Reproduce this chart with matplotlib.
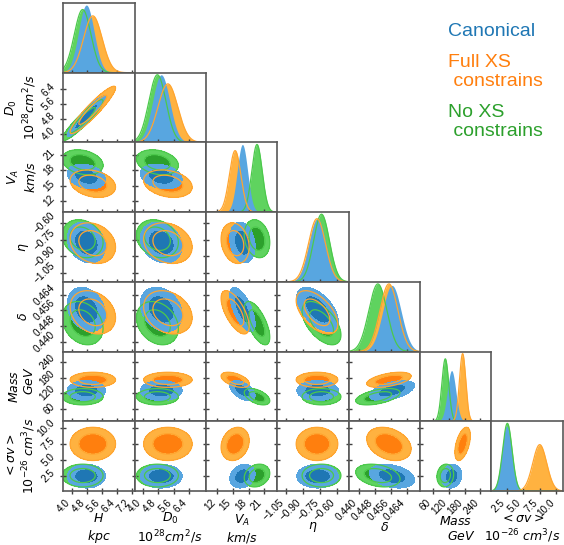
import numpy as np
import matplotlib
matplotlib.use("Agg")
import matplotlib.pyplot as plt

plt.rcParams['font.family'] = ['Liberation Sans', 'DejaVu Sans']
plt.rcParams['mathtext.fontset'] = 'dejavusans'

# parametros, limites e ticks
labels = [r'$H$' '\n' r'$kpc$',
          r'$D_0$' '\n' r'$10^{28}cm^2/s$',
          r'$V_A$' '\n' r'$km/s$',
          r'$\eta$',
          r'$\delta$',
          r'$Mass$' '\n' r'$\ \ \ GeV$',
          r'$<\sigma v>$' '\n' r'$10^{-26}$ $cm^3/s$']
limits = [(3.5, 7.35), (3.55, 7.3), (9.8, 23.5), (-1.13, -0.50),
          (0.435, 0.4705), (10, 282), (0.2, 11.0)]
ticks = [[4.0, 4.8, 5.6, 6.4, 7.2], [4.0, 4.8, 5.6, 6.4], [12, 15, 18, 21],
         [-1.05, -0.90, -0.75, -0.60], [0.440, 0.448, 0.456, 0.464],
         [60, 120, 180, 240], [2.5, 5.0, 7.5, 10.0]]
tick_labels = [['4.0', '4.8', '5.6', '6.4', '7.2'], ['4.0', '4.8', '5.6', '6.4'],
               ['12', '15', '18', '21'],
               ['\u22121.05', '\u22120.90', '\u22120.75', '\u22120.60'],
               ['0.440', '0.448', '0.456', '0.464'],
               ['60', '120', '180', '240'], ['2.5', '5.0', '7.5', '10.0']]

# medias e desvios
canonical_mean = [4.75, 4.95, 16.8, -0.775, 0.4565, 130, 2.5]
canonical_sigma = [0.42, 0.45, 1.0, 0.075, 0.0046, 16, 0.75]
fullxs_mean = [5.1, 5.3, 15.4, -0.78, 0.455, 172, 7.5]
fullxs_sigma = [0.5, 0.52, 1.1, 0.075, 0.0045, 12, 1.05]
noxs_mean = [4.55, 4.75, 19.6, -0.74, 0.4495, 106, 2.6]
noxs_sigma = [0.45, 0.45, 1.0, 0.07, 0.0045, 13, 0.72]

# correlacoes entre pares (i, j)
corr_shared = {(0, 1): 0.93, (0, 2): -0.25, (1, 2): -0.25, (0, 3): -0.2, (1, 3): -0.2,
               (0, 4): -0.25, (1, 4): -0.25, (2, 3): -0.2, (2, 4): -0.65, (2, 5): -0.5,
               (2, 6): 0.2, (3, 4): -0.55, (4, 5): 0.5, (4, 6): -0.3, (5, 6): 0.1}
corr_fullxs = {(5, 6): 0.5}

n = len(labels)
datasets = [
    # media, sigma, corr extra, cor clara, cor escura, cor linha
    (noxs_mean, noxs_sigma, {}, '#5fd35f', '#2ca02c', '#4cc94c'),
    (fullxs_mean, fullxs_sigma, corr_fullxs, '#ffb240', '#ff7f0e', '#ffa530'),
    (canonical_mean, canonical_sigma, {}, '#58a6e0', '#1f77b4', None),
]


def corr(extra, a, b):
    key = (min(a, b), max(a, b))
    return extra.get(key, corr_shared.get(key, 0.0))


fig, axes = plt.subplots(n, n, figsize=(5.64, 5.45), dpi=100)
fig.subplots_adjust(left=0.112, right=0.998, top=0.9945, bottom=0.099, wspace=0, hspace=0)

for i in range(n):
    for j in range(n):
        ax = axes[i, j]
        if j > i:
            ax.axis('off')
            continue
        if i == j:
            x = np.linspace(*limits[i], 400)
            ymax = 0
            curves = []
            for m, s, extra, light, dark, line in datasets:
                p = np.exp(-0.5 * ((x - m[i]) / s[i]) ** 2) / s[i]
                ymax = max(ymax, p.max())
                curves.append((p, light, line))
            for p, light, line in curves:
                ax.fill_between(x, 0, p, color=light, lw=0)
            for p, light, line in curves:
                if line:
                    ax.plot(x, p, color=line, lw=0.9)
            ax.set_ylim(0, ymax * 1.03)
            ax.set_yticks([])
        else:
            xg = np.linspace(*limits[j], 180)
            yg = np.linspace(*limits[i], 180)
            X, Y = np.meshgrid(xg, yg)
            qs = []
            for m, s, extra, light, dark, line in datasets:
                r = corr(extra, i, j)
                u = (X - m[j]) / s[j]
                v = (Y - m[i]) / s[i]
                q = (u ** 2 - 2 * r * u * v + v ** 2) / (1 - r ** 2)
                ax.contourf(X, Y, q, levels=[0, 2.28, 5.99], colors=[dark, light])
                qs.append((q, line))
            for q, line in qs:
                if line:
                    ax.contour(X, Y, q, levels=[2.28, 5.99], colors=line, linewidths=0.9)
            ax.set_ylim(limits[i])
            ax.set_yticks(ticks[i])
            if j == 0:
                ax.set_yticklabels(tick_labels[i], rotation=45, ha='right', va='center', fontsize=7.2)
                ax.set_ylabel(labels[i], fontsize=9)
                ax.yaxis.set_label_coords(-0.58 if '\n' in labels[i] else -0.55, 0.5)
                ax.yaxis.label.set_va('center')
            else:
                ax.set_yticklabels([])
        ax.set_xlim(limits[j])
        ax.set_xticks(ticks[j])
        if i == n - 1:
            ax.set_xticklabels(tick_labels[j], rotation=45, ha='right', fontsize=7.2)
            ax.set_xlabel(labels[j], fontsize=9)
            ax.xaxis.set_label_coords(0.43 if j == n - 1 else 0.5,
                                      -0.54 if '\n' in labels[j] else -0.52)
            ax.xaxis.label.set_va('center')
        else:
            ax.set_xticklabels([])
        ax.tick_params(direction='inout', length=5, width=1, color='0.25', pad=2)
        for sp in ax.spines.values():
            sp.set_color('0.35')
            sp.set_linewidth(1.2)

# legenda em texto
fig.text(0.794, 0.934, 'Canonical', color='#1f77b4', fontsize=14)
fig.text(0.794, 0.842, 'Full XS\n constrains', color='#ff7f0e', fontsize=14, linespacing=1.15)
fig.text(0.794, 0.750, 'No XS\n constrains', color='#2ca02c', fontsize=14, linespacing=1.15)

plt.savefig('out.png', dpi=100)
plt.close()
